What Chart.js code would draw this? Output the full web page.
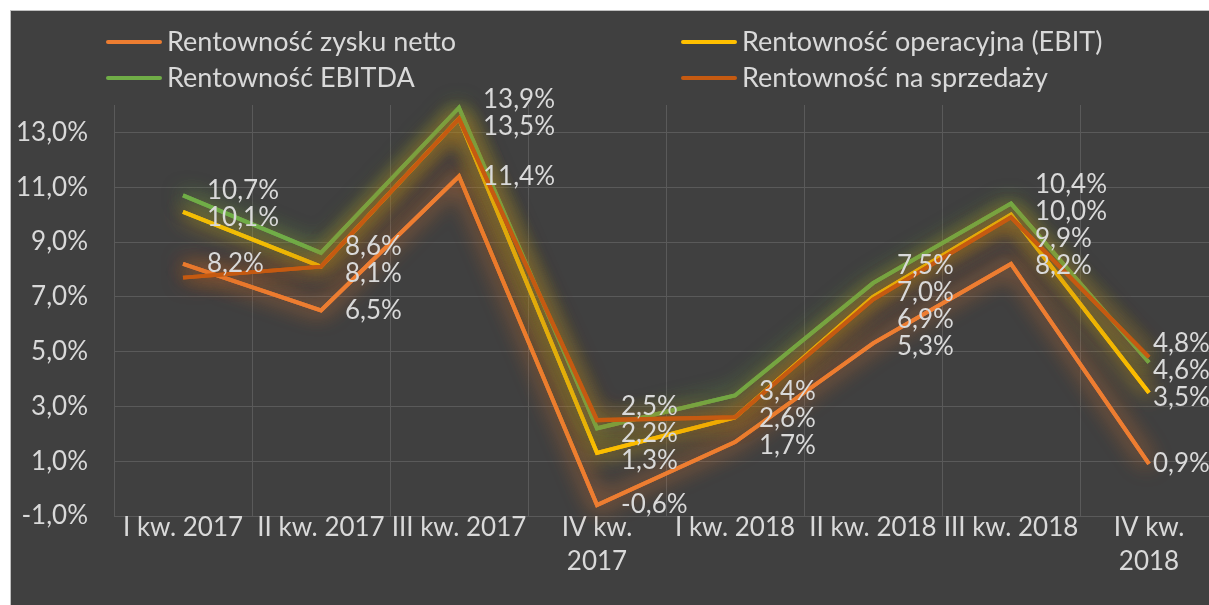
<!DOCTYPE html>
<html lang="pl">
<head>
<meta charset="UTF-8">
<title>Rentowność</title>
<script src="https://cdn.jsdelivr.net/npm/chart.js"></script>
<style>
  html, body { margin: 0; padding: 0; background: #fff; overflow: hidden; }
  #frame { position: absolute; left: 10px; top: 10px; width: 1210px; height: 600px;
           border: 1px solid #bfbfbf; background: #404040; overflow: hidden; }
  canvas { display: block; }
</style>
</head>
<body>
<div id="frame"><canvas id="chart" width="1220" height="594"></canvas></div>
<script>
// quarters
const categories = ['I kw. 2017', 'II kw. 2017', 'III kw. 2017', ['IV kw.', '2017'],
                    'I kw. 2018', 'II kw. 2018', 'III kw. 2018', ['IV kw.', '2018']];
const seriesNames = ['Rentowność zysku netto', 'Rentowność operacyjna (EBIT)',
                     'Rentowność EBITDA', 'Rentowność na sprzedaży'];
// values in %
const netto    = [8.2, 6.5, 11.4, -0.6, 1.7, 5.3, 8.2, 0.9];
const ebit     = [10.1, 8.1, 13.5, 1.3, 2.6, 7.0, 10.0, 3.5];
const ebitda   = [10.7, 8.6, 13.9, 2.2, 3.4, 7.5, 10.4, 4.6];
const sprzedaz = [7.7, 8.1, 13.5, 2.5, 2.6, 6.9, 9.9, 4.8];
const yTicks = [-1, 1, 3, 5, 7, 9, 11, 13];

const colors = ['#ED7D31', '#FFC000', '#70AD47', '#C55A11'];
const textColor = '#D9D9D9';
const gridColor = '#5A5A5A';
const fmt = v => v.toFixed(1).replace('.', ',') + '%';

// soft glow around each line (an extra shadowed pass under the normal one)
const glow = {
  id: 'glow',
  beforeDatasetDraw(chart, args) {
    const ctx = chart.ctx;
    ctx.save();
    ctx.shadowColor = args.meta.dataset.options.borderColor + 'B0';
    ctx.shadowBlur = 22;
    args.meta.dataset.draw(ctx, chart.chartArea);
  },
  afterDatasetDraw(chart) {
    chart.ctx.restore();
  }
};

// value labels to the right of the points, spread apart when they collide
const valueLabels = {
  id: 'valueLabels',
  afterDatasetsDraw(chart) {
    const ctx = chart.ctx;
    const gap = 27;
    const visibleRight = document.getElementById('frame').clientWidth;
    ctx.save();
    ctx.font = '26px Lato';
    ctx.fillStyle = textColor;
    ctx.textBaseline = 'middle';
    ctx.textAlign = 'left';
    categories.forEach((c, i) => {
      const items = [];
      chart.data.datasets.forEach((ds, d) => {
        if (ds.hideLabels && ds.hideLabels.includes(i)) return;
        const pt = chart.getDatasetMeta(d).data[i];
        const text = fmt(ds.data[i]);
        if (items.some(it => it.text === text)) return;
        items.push({ x: pt.x, y: pt.y, ly: pt.y, text });
      });
      items.sort((a, b) => a.y - b.y);
      for (let k = 0; k < 80; k++) {
        for (let j = 1; j < items.length; j++) {
          const diff = items[j].ly - items[j - 1].ly;
          if (diff < gap) {
            const m = (gap - diff) / 2;
            items[j].ly += m;
            items[j - 1].ly -= m;
          }
        }
      }
      items.forEach(it => {
        let lx = it.x + 24;
        if (lx + ctx.measureText(it.text).width > visibleRight) lx = it.x + 4;
        ctx.fillText(it.text, lx, it.ly);
      });
    });
    ctx.restore();
  }
};

// two-column legend at the top
const legendBox = {
  id: 'legendBox',
  afterDraw(chart) {
    const ctx = chart.ctx;
    const slots = [[97, 31], [672, 31], [97, 67], [672, 67]];
    ctx.save();
    ctx.font = '27px Lato';
    ctx.textBaseline = 'middle';
    ctx.textAlign = 'left';
    seriesNames.forEach((name, i) => {
      const [x, y] = slots[i];
      ctx.strokeStyle = colors[i];
      ctx.lineWidth = 4;
      ctx.lineCap = 'round';
      ctx.beginPath();
      ctx.moveTo(x, y);
      ctx.lineTo(x + 52, y);
      ctx.stroke();
      ctx.fillStyle = textColor;
      ctx.fillText(name, x + 59, y);
    });
    ctx.restore();
  }
};

const ctx = document.getElementById('chart').getContext('2d');
new Chart(ctx, {
  type: 'line',
  data: {
    labels: categories,
    datasets: [
      { label: seriesNames[0], data: netto, borderColor: colors[0], order: 4 },
      { label: seriesNames[1], data: ebit, borderColor: colors[1], order: 3 },
      { label: seriesNames[2], data: ebitda, borderColor: colors[2], order: 2 },
      { label: seriesNames[3], data: sprzedaz, borderColor: colors[3], order: 1, hideLabels: [0] }
    ]
  },
  options: {
    responsive: false,
    animation: false,
    devicePixelRatio: 1,
    layout: { padding: { top: 94, right: 13, left: 0, bottom: 0 } },
    elements: {
      line: { borderWidth: 4, tension: 0, borderJoinStyle: 'miter' },
      point: { radius: 0, hoverRadius: 0 }
    },
    datasets: { line: { clip: false } },
    plugins: { legend: { display: false }, tooltip: { enabled: false } },
    scales: {
      x: {
        offset: true,
        grid: { offset: true, color: gridColor, drawTicks: false },
        border: { display: false },
        afterFit: s => { s.height = 89; },
        ticks: {
          color: textColor, font: { family: 'Lato', size: 26, lineHeight: 1.3 },
          padding: -5, maxRotation: 0, autoSkip: false
        }
      },
      y: {
        min: -1,
        max: 14,
        afterBuildTicks: s => { s.ticks = yTicks.map(v => ({ value: v })); },
        afterFit: s => { s.width = 103; },
        grid: { color: gridColor, drawTicks: false },
        border: { display: false },
        ticks: {
          color: textColor, font: { family: 'Lato', size: 26 },
          padding: 26, callback: v => fmt(v)
        }
      }
    }
  },
  plugins: [glow, valueLabels, legendBox]
});
</script>
</body>
</html>
